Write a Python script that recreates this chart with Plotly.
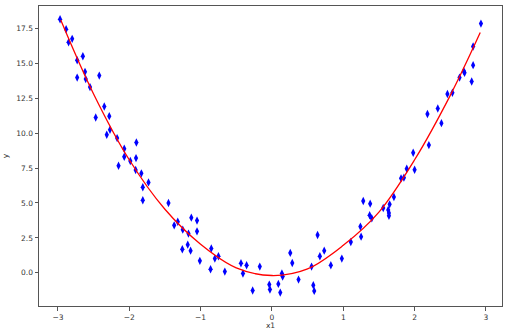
import plotly.graph_objects as go

# Scatter data (x1, y)
x1 = [-2.97, -2.885, -2.85, -2.80, -2.73, -2.65, -2.73, -2.62, -2.61, -2.55,
      -2.42, -2.35, -2.47, -2.28, -2.27, -2.315, -2.17, -1.90, -2.07, -2.07,
      -1.905, -2.15, -1.985, -1.91, -1.83, -1.81, -1.73, -1.81, -1.45, -1.37,
      -1.32, -1.25, -1.256, -1.18, -1.17, -1.14, -1.13, -1.05, -1.05, -1.01,
      -0.85, -0.86, -0.80, -0.75, -0.66, -0.434, -0.406, -0.355, -0.27, -0.17,
      -0.037, -0.028, 0.09, 0.117, 0.14, 0.15, 0.257, 0.285, 0.373, 0.556,
      0.58, 0.593, 0.64, 0.672, 0.733, 0.826, 0.98, 1.106, 1.24, 1.25,
      1.28, 1.377, 1.37, 1.40, 1.56, 1.63, 1.64, 1.64, 1.65, 1.71,
      1.81, 1.85, 1.89, 2.0, 1.98, 2.20, 2.18, 2.325, 2.376, 2.46,
      2.53, 2.63, 2.69, 2.70, 2.80, 2.82, 2.82, 2.93]
y = [18.14, 17.43, 16.5, 16.74, 15.21, 15.5, 13.97, 14.38, 13.86, 13.29,
     14.11, 11.9, 11.11, 11.21, 10.24, 9.88, 9.64, 9.33, 8.88, 8.31,
     8.21, 7.66, 8.0, 7.36, 7.12, 6.12, 6.47, 5.19, 5.0, 3.4,
     3.66, 3.09, 1.69, 2.02, 2.81, 1.59, 3.95, 3.74, 2.97, 0.86,
     1.74, 0.26, 1.02, 1.19, 0.09, 0.69, -0.05, 0.55, -1.26, 0.45,
     -0.84, -1.19, -0.79, -1.41, -0.05, -0.26, 1.43, 0.71, -0.48, 0.45,
     -0.88, -1.29, 2.71, 1.19, 1.59, 0.55, 1.02, 2.21, 3.31, 2.59,
     5.14, 4.95, 4.12, 3.9, 4.64, 4.5, 4.29, 4.09, 4.9, 5.43,
     6.76, 6.81, 7.45, 7.38, 8.59, 9.14, 11.36, 11.76, 10.71, 12.79,
     12.88, 13.97, 14.43, 14.31, 13.69, 14.86, 16.19, 17.83]

# Fitted curve
curve_x = [-2.96, -2.5, -2.0, -1.5, -1.0, -0.5, 0.0, 0.5, 1.0, 1.5, 2.0, 2.5, 2.92]
curve_y = [18.09, 12.8, 8.09, 4.55, 2.05, 0.36, -0.19, 0.28, 1.97, 4.35, 8.09, 12.7, 17.19]

x_ticks = [-3, -2, -1, 0, 1, 2, 3]
y_ticks = [0.0, 2.5, 5.0, 7.5, 10.0, 12.5, 15.0, 17.5]

FONT = dict(family="DejaVu Sans", size=7.5, color="#333")

fig = go.Figure()
fig.add_trace(go.Scatter(x=x1, y=y, mode="markers",
                         marker=dict(symbol="diamond-tall", size=6, color="blue",
                                     line=dict(width=0)),
                         showlegend=False))
fig.add_trace(go.Scatter(x=curve_x, y=curve_y, mode="lines",
                         line=dict(color="red", width=1.3, shape="spline"),
                         showlegend=False))

axis_common = dict(showgrid=False, zeroline=False, showline=True, mirror=True,
                   linecolor="#555", linewidth=1, ticks="outside", ticklen=3.5,
                   tickcolor="#555", automargin=False, tickfont=FONT)

fig.update_layout(
    width=512, height=330,
    margin=dict(l=39, r=10, t=6, b=24),
    paper_bgcolor="white", plot_bgcolor="white",
    xaxis=dict(range=[-3.265, 3.225], tickvals=x_ticks,
               title=dict(text="x1", font=FONT, standoff=2),
               **axis_common),
    yaxis=dict(range=[-2.37, 19.09], tickvals=y_ticks, tickformat=".1f",
               title=dict(text="y", font=FONT, standoff=6),
               **axis_common),
)

fig.write_html("out.html")
